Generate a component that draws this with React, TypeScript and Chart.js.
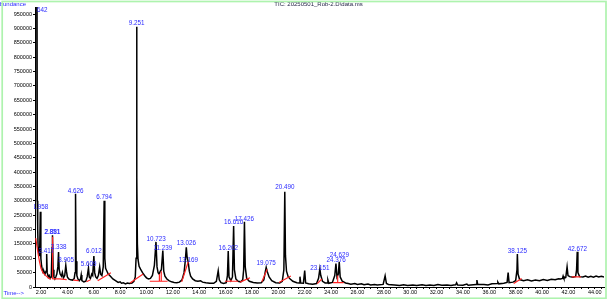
import React, { useEffect, useRef } from 'react';
import { Chart, registerables } from 'chart.js';

Chart.register(...registerables);

// ---- DATA (time in min, abundance) ----
const traceEarly: [number, number][] = [
  [1.545, 300000], [1.58, 1300000], [1.64, 1500000], [1.69, 1300000], [1.72, 300000],
  [1.75, 200000], [1.78, 140000], [1.82, 125000], [1.86, 110000], [1.9, 120000],
  [1.95, 262000], [1.99, 100000], [2.04, 75000], [2.1, 60000], [2.16, 50000],
  [2.22, 55000], [2.3, 45000], [2.38, 55000], [2.43, 115000], [2.47, 50000],
  [2.55, 35000], [2.62, 40000], [2.7, 30000], [2.78, 35000], [2.84, 140000],
  [2.86, 110000], [2.88, 180000], [2.92, 60000], [2.98, 35000], [3.05, 28000],
  [3.12, 35000], [3.2, 45000], [3.28, 70000], [3.33, 122000], [3.38, 60000],
  [3.45, 45000], [3.55, 38000], [3.62, 50000], [3.7, 32000], [3.8, 40000],
  [3.88, 75000], [3.93, 55000], [4.0, 35000], [4.1, 28000], [4.25, 25000],
  [4.4, 24000], [4.52, 30000], [4.58, 50000], [4.62, 325000], [4.66, 90000],
  [4.72, 40000], [4.8, 28000], [4.9, 22000], [5.0, 28000], [5.05, 42000],
  [5.1, 22000], [5.25, 18000], [5.4, 20000], [5.5, 35000], [5.6, 66000],
  [5.66, 35000], [5.75, 30000], [5.85, 45000], [5.92, 40000], [6.01, 108000],
  [6.07, 50000], [6.15, 35000], [6.25, 30000], [6.35, 40000], [6.45, 70000],
  [6.52, 45000], [6.62, 40000], [6.72, 70000], [6.79, 300000], [6.84, 100000],
  [6.9, 65000], [7.0, 55000], [7.1, 45000], [7.25, 38000], [7.45, 28000],
  [7.65, 22000], [7.85, 16000], [8.0, 18000], [8.1, 13000], [8.25, 15000],
  [8.4, 11000], [8.55, 14000], [8.7, 12000], [8.9, 14000], [9.05, 20000],
  [9.15, 35000], [9.21, 100000], [9.25, 906000], [9.28, 380000], [9.31, 150000],
  [9.36, 95000], [9.44, 72000], [9.55, 62000], [9.7, 50000], [9.85, 40000],
  [10.0, 32000], [10.15, 28000], [10.3, 30000], [10.45, 40000], [10.6, 75000],
  [10.72, 157000], [10.8, 70000], [10.88, 50000], [10.96, 45000], [11.05, 55000],
  [11.13, 60000], [11.24, 127000], [11.31, 55000], [11.4, 38000], [11.55, 28000],
  [11.7, 22000], [11.9, 18000], [12.1, 16000], [12.3, 15000], [12.5, 17000],
  [12.7, 25000], [12.85, 50000], [12.95, 95000], [13.02, 138000], [13.08, 105000],
  [13.17, 85000], [13.25, 55000], [13.35, 38000], [13.5, 28000], [13.7, 22000],
  [13.9, 20000], [14.1, 22000], [14.25, 17000], [14.5, 15000],
];

const traceMid: [number, number][] = [
  [14.8, 13000], [15.1, 13000], [15.3, 20000], [15.44, 57000], [15.52, 25000],
  [15.65, 15000], [15.85, 12000], [16.05, 15000], [16.14, 40000], [16.2, 125000],
  [16.26, 35000], [16.4, 22000], [16.52, 35000], [16.61, 212000], [16.67, 60000],
  [16.78, 28000], [16.95, 20000], [17.15, 18000], [17.3, 25000], [17.37, 60000],
  [17.43, 227000], [17.49, 70000], [17.6, 30000], [17.8, 20000], [18.1, 16000],
  [18.4, 14000], [18.7, 15000], [18.9, 25000], [19.02, 55000], [19.08, 68000],
  [19.15, 55000], [19.3, 35000], [19.5, 22000], [19.8, 15000], [20.1, 14000],
  [20.3, 20000], [20.42, 60000], [20.49, 332000], [20.54, 110000], [20.62, 55000],
  [20.75, 35000], [20.9, 28000], [21.1, 20000], [21.4, 15000], [21.58, 14000],
  [21.64, 36000], [21.7, 14000], [21.9, 13000], [22.0, 57000], [22.07, 14000],
  [22.3, 11000], [22.6, 10000], [22.9, 12000], [23.05, 30000], [23.15, 63000],
  [23.22, 40000], [23.35, 20000], [23.55, 14000], [23.7, 14000], [23.76, 24000],
  [23.83, 13000], [24.1, 16000], [24.28, 40000], [24.37, 82000], [24.45, 35000],
  [24.55, 45000], [24.62, 88000], [24.69, 35000], [24.85, 20000], [25.1, 14000],
  [25.3, 12000], [25.5, 10000], [25.8, 12000], [26.0, 9000], [26.3, 11000],
  [26.5, 8000], [26.8, 10000], [27.0, 7000], [27.3, 9000], [27.5, 7000],
];

const traceLate: [number, number][] = [
  [27.95, 9000], [28.1, 39000], [28.2, 12000], [28.35, 9000], [28.8, 7000],
  [29.2, 5000], [29.5, 8000], [29.8, 5000], [30.2, 7000], [30.5, 5000],
  [30.9, 8000], [31.2, 5000], [31.5, 7000], [31.8, 5000], [32.1, 9000],
  [32.4, 6000], [32.8, 7000], [33.1, 5000], [33.3, 7000], [33.45, 8000],
  [33.52, 15000], [33.6, 7000], [34.0, 6000], [34.3, 10000], [34.4, 6000],
  [34.8, 8000], [35.0, 9000], [35.06, 24000], [35.12, 9000], [35.6, 9000],
  [35.9, 7000], [36.2, 11000], [36.6, 12000], [36.65, 17000], [36.72, 11000],
  [37.1, 13000], [37.35, 16000], [37.43, 50000], [37.5, 15000], [37.8, 17000],
  [38.0, 22000], [38.1, 60000], [38.13, 115000], [38.18, 45000], [38.3, 26000],
  [38.6, 22000], [38.9, 25000], [39.2, 21000], [39.5, 24000], [39.8, 22000],
  [40.1, 26000], [40.4, 23000], [40.7, 27000], [41.0, 25000], [41.25, 29000],
  [41.4, 28000], [41.55, 30000], [41.6, 38000], [41.66, 30000], [41.8, 33000],
  [41.9, 70000], [41.97, 40000], [42.1, 36000], [42.35, 34000], [42.55, 37000],
  [42.62, 60000], [42.67, 123000], [42.72, 50000], [42.85, 36000], [43.1, 35000],
  [43.3, 38000], [43.5, 34000], [43.7, 37000], [43.9, 34000], [44.1, 38000],
  [44.3, 35000], [44.5, 37000], [44.7, 35000],
];

// integration baselines (red)
const baselineSegments: [number, number][][] = [
  [[1.6, 170000], [1.7, 140000], [1.8, 110000], [1.9, 85000], [2.0, 65000], [2.15, 50000], [2.3, 42000], [2.45, 36000], [2.6, 30000], [2.75, 28000]],
  [[2.86, 28000], [2.88, 175000]],
  [[2.88, 28000], [3.4, 28000], [3.95, 26000]],
  [[4.45, 24000], [4.85, 22000]],
  [[5.45, 18000], [5.75, 25000]],
  [[6.3, 22000], [7.3, 50000]],
  [[8.75, 14000], [9.75, 45000]],
  [[10.25, 20000], [11.6, 20000]],
  [[10.98, 20000], [10.98, 45000]],
  [[11.12, 20000], [11.12, 55000]],
  [[12.67, 18000], [13.17, 88000]],
  [[15.95, 20000], [16.95, 20000]],
  [[16.4, 20000], [16.4, 25000]],
  [[17.1, 17000], [17.85, 32000]],
  [[18.75, 18000], [19.15, 62000]],
  [[20.05, 16000], [20.95, 38000]],
  [[22.95, 12000], [23.3, 28000]],
  [[24.15, 15000], [24.95, 15000]],
  [[24.5, 15000], [24.5, 40000]],
  [[37.85, 12000], [38.45, 30000]],
  [[42.25, 35000], [42.95, 35000]],
];

const peakLabels = ['1.642', '1.958', '2.417', '2.851', '2.881', '3.338', '3.905', '4.626', '5.609', '6.012', '6.794', '9.251', '10.723', '11.239', '13.026', '13.169', '16.202', '16.616', '17.426', '19.075', '20.490', '23.151', '24.376', '24.629', '38.125', '42.672'];
const peakLabelLevels = [965000, 278700, 123000, 189000, 189000, 137000, 91600, 334400, 80100, 123000, 312500, 919700, 167200, 135900, 153300, 94000, 134800, 224000, 236900, 82600, 347300, 65100, 94000, 111500, 125400, 132400];

const yTickValues = [0, 50000, 100000, 150000, 200000, 250000, 300000, 350000, 400000, 450000, 500000, 550000, 600000, 650000, 700000, 750000, 800000, 850000, 900000, 950000];
const xTickLabels = [2, 4, 6, 8, 10, 12, 14, 16, 18, 20, 22, 24, 26, 28, 30, 32, 34, 36, 38, 40, 42, 44];

const TITLE = 'TIC: 20250501_Rob-2.D\\data.ms';
const FONT = '"Liberation Sans", Arial, sans-serif';

export default function App() {
  const ref = useRef<HTMLCanvasElement>(null);

  useEffect(() => {
    document.body.style.margin = '0';
    const canvas = ref.current!;
    const trace = [...traceEarly, ...traceMid, ...traceLate].map(([x, y]) => ({ x, y }));
    const red: { x: number; y: number | null }[] = [];
    baselineSegments.forEach((seg, i) => {
      if (i > 0) red.push({ x: seg[0][0], y: null });
      seg.forEach(([x, y]) => red.push({ x, y }));
    });

    const minorTicks: number[] = [];
    for (let v = 2; v <= 44.5; v += 0.5) minorTicks.push(v);

    const decor = {
      id: 'decor',
      afterDraw(chart: any) {
        const { ctx, chartArea, scales } = chart;
        ctx.save();
        ctx.fillStyle = '#2a2aff';
        ctx.font = `6.3px ${FONT}`;
        ctx.textAlign = 'center';
        ctx.textBaseline = 'middle';
        peakLabels.forEach((lab, i) => {
          const x = scales.x.getPixelForValue(parseFloat(lab));
          const y = scales.y.getPixelForValue(peakLabelLevels[i]);
          ctx.save();
          ctx.beginPath();
          // first label is partly hidden behind the axis region
          ctx.rect(i === 0 ? chartArea.left + 1.5 : chartArea.left - 1, 0, chart.width, chart.height);
          ctx.clip();
          ctx.fillText(lab, i === 0 ? x + 3.3 : x, y);
          ctx.restore();
        });
        ctx.restore();

        ctx.save();
        ctx.font = `6px ${FONT}`;
        ctx.textBaseline = 'middle';
        ctx.fillStyle = '#2a2aff';
        ctx.textAlign = 'right';
        ctx.fillText('Abundance', 26, 4.5);
        ctx.textAlign = 'left';
        ctx.fillText('Time-->', 3.5, 293);
        ctx.fillStyle = '#1c1c40';
        ctx.textAlign = 'center';
        ctx.fillText(TITLE, 318.5, 4.8);
        ctx.strokeStyle = '#aef3ae';
        ctx.lineWidth = 1.7;
        ctx.strokeRect(2.2, 1.5, 603.8, 296.8);
        ctx.restore();
      },
    };

    const chart = new Chart(canvas, {
      type: 'line',
      data: {
        datasets: [
          {
            data: red as any,
            borderColor: '#ff2222',
            borderWidth: 1.2,
            pointRadius: 0,
            spanGaps: false,
            order: 1,
          },
          {
            data: trace as any,
            borderColor: '#000000',
            borderWidth: 1.5,
            pointRadius: 0,
            order: 2,
          },
        ],
      },
      options: {
        responsive: false,
        animation: false,
        events: [],
        layout: { padding: { top: 7, right: 5, left: 0, bottom: 0 } },
        plugins: { legend: { display: false }, tooltip: { enabled: false }, title: { display: false } },
        scales: {
          x: {
            type: 'linear',
            min: 1.545,
            max: 44.7,
            afterBuildTicks: (s: any) => {
              s.ticks = minorTicks.map((v) => ({ value: v }));
            },
            afterFit: (s: any) => {
              s.height = 12;
            },
            ticks: {
              autoSkip: false,
              maxRotation: 0,
              minRotation: 0,
              padding: 0,
              color: '#000',
              font: { size: 5.5, family: FONT },
              callback: (v: any) => (xTickLabels.includes(Number(v)) ? Number(v).toFixed(2) : ''),
            },
            grid: { drawOnChartArea: false, tickLength: 2, color: '#000', lineWidth: 1 },
            border: { color: '#000', width: 1 },
          },
          y: {
            type: 'linear',
            min: 0,
            max: 975000,
            afterBuildTicks: (s: any) => {
              s.ticks = yTickValues.map((v) => ({ value: v }));
            },
            afterFit: (s: any) => {
              s.width = 35;
            },
            ticks: {
              autoSkip: false,
              padding: 1,
              color: '#000',
              font: { size: 5.5, family: FONT },
              callback: (v: any) => String(v),
            },
            grid: { drawOnChartArea: false, tickLength: 2, color: '#000', lineWidth: 1 },
            border: { color: '#000', width: 1 },
          },
        },
      },
      plugins: [decor],
    });
    return () => chart.destroy();
  }, []);

  return (
    <div style={{ width: 609, height: 299, position: 'relative', background: '#fff' }}>
      <canvas ref={ref} width={609} height={299} style={{ width: 609, height: 299, display: 'block' }} />
    </div>
  );
}
